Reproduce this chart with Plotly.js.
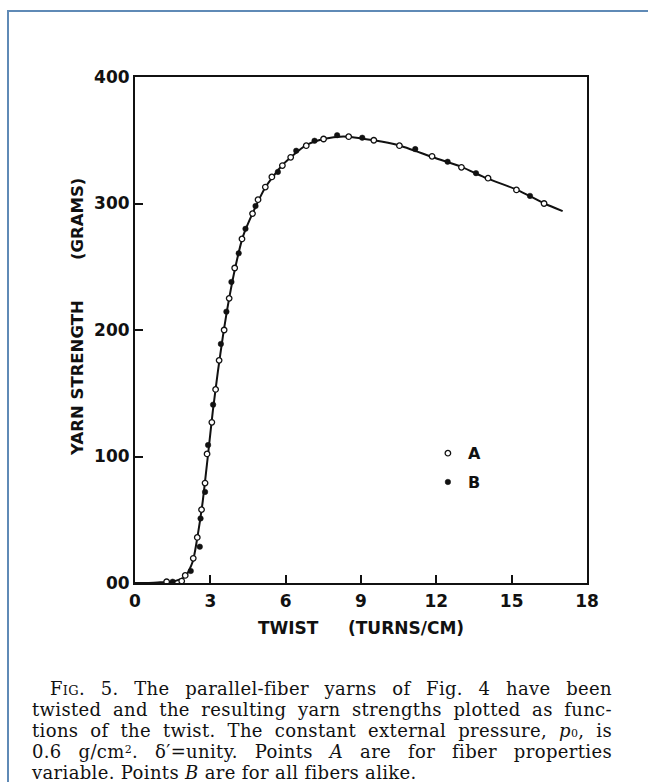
<!DOCTYPE html>
<html>
<head>
<meta charset="utf-8">
<script src="https://cdn.plot.ly/plotly-3.0.1.min.js"></script>
<style>
  html, body { margin: 0; padding: 0; background: #ffffff; }
  #wrap { position: relative; width: 648px; height: 782px; overflow: hidden; }
  #chart { position: absolute; left: 0; top: 0; width: 648px; height: 782px; }
  #frame { position: absolute; left: 7px; top: 10px; width: 700px; height: 800px;
           border-left: 2px solid #5f8ab6; border-top: 2px solid #5f8ab6; pointer-events: none; }
  #caption { position: absolute; left: 32px; top: 678px; width: 580px;
             font-family: "DejaVu Serif", "Liberation Serif", serif; font-size: 18px;
             line-height: 21px; color: #111; letter-spacing: 0.35px; }
  #caption .ln { text-align: justify; text-align-last: justify; white-space: nowrap; height: 21px; }
  #caption .ln.last { text-align-last: left; }
  #caption .ln.first { padding-left: 18px; }
  #caption .sb { font-size: 11px; line-height: 0; }
  #caption .sp { font-size: 11px; position: relative; top: -5px; line-height: 0; }
  #caption .sc { font-variant: small-caps; }
</style>
</head>
<body>
<div id="wrap">
  <div id="chart"></div>
  <div id="frame"></div>
  <div id="caption"></div>
</div>
<script>
// Smooth theoretical curve
const curveTwist    = [0, 0.5, 1.0, 1.5, 2.0, 2.3, 2.5, 2.7, 2.9, 3.1, 3.3, 3.5, 3.75, 4.0, 4.3, 4.7, 5.2, 5.9, 6.8, 7.5, 8.3, 9.5, 10.5, 11.8, 13.0, 14.0, 15.2, 16.3, 17.03];
const curveStrength = [0, 0, 0.5, 1, 5, 17, 38, 65, 100, 136, 167, 195, 225, 250, 274, 293, 313, 331, 346, 351, 353, 350, 346, 337, 329, 320, 311, 300, 294];

// Points A (open circles): fiber properties variable
const twistA    = [1.26, 1.86, 2.0, 2.32, 2.48, 2.65, 2.79, 2.87, 3.06, 3.21, 3.35, 3.55, 3.75, 3.97, 4.26, 4.68, 4.90, 5.19, 5.45, 5.87, 6.20, 6.82, 7.51, 8.51, 9.51, 10.53, 11.83, 13.0, 14.06, 15.19, 16.29];
const strengthA = [1, 1.5, 6, 19.5, 36, 58, 79, 102, 127, 153, 176, 200, 225, 249, 272, 292, 303, 313, 321, 330, 336.5, 345.7, 351, 352.8, 350, 345.7, 337.3, 328.6, 320, 310.7, 300];

// Points B (filled dots): all fibers alike
const twistB    = [1.5, 2.22, 2.58, 2.61, 2.79, 2.91, 3.11, 3.42, 3.64, 3.84, 4.13, 4.40, 4.80, 5.69, 6.42, 7.15, 8.05, 9.05, 11.16, 12.45, 13.58, 15.73];
const strengthB = [1, 9.5, 28.7, 51, 72, 109, 141, 189, 214.5, 238, 260.6, 280, 298, 325, 341.7, 349.6, 354, 352, 343, 333, 324, 306];

const xTickVals = [0, 3, 6, 9, 12, 15, 18];
const xTickText = ['0', '3', '6', '9', '12', '15', '18'];
const yTickVals = [0, 100, 200, 300, 400];
const yTickText = ['00', '100', '200', '300', '400'];

const xTitle = 'TWIST&nbsp;&nbsp;&nbsp;&nbsp;&nbsp;(TURNS/CM)';
const yTitle = 'YARN STRENGTH&nbsp;&nbsp;&nbsp;&nbsp;&nbsp;&nbsp;&nbsp;(GRAMS)';

const captionLines = [
  '<span class="sc">Fig</span>. 5. The parallel-fiber yarns of Fig. 4 have been',
  'twisted and the resulting yarn strengths plotted as func-',
  'tions of the twist. The constant external pressure, <i>p</i><span class="sb">0</span>, is',
  '0.6 g/cm<span class="sp">2</span>. δ′=unity. Points <i>A</i> are for fiber properties',
  'variable. Points <i>B</i> are for all fibers alike.'
];

const boldSans = 'DejaVu Sans, Liberation Sans, sans-serif';
const labelFont = { family: boldSans, size: 17, color: '#111', weight: 'bold' };

const traces = [
  { x: curveTwist, y: curveStrength, mode: 'lines', type: 'scatter',
    line: { color: '#111', width: 2, shape: 'spline', smoothing: 0.6 },
    showlegend: false, hoverinfo: 'skip' },
  { x: twistA, y: strengthA, mode: 'markers', type: 'scatter', name: 'A', legendgroup: 'A',
    marker: { symbol: 'circle', size: 5.5, color: '#ffffff', line: { color: '#111', width: 1.3 } } },
  { x: twistB, y: strengthB, mode: 'markers', type: 'scatter', name: 'B', legendgroup: 'B',
    marker: { symbol: 'circle', size: 5.5, color: '#111', line: { color: '#111', width: 0.5 } } }
];

const layout = {
  width: 648, height: 782,
  margin: { l: 135, r: 61, t: 77, b: 199 },
  paper_bgcolor: '#ffffff', plot_bgcolor: '#ffffff',
  xaxis: {
    range: [0, 18], tickvals: xTickVals, ticktext: xTickText,
    ticks: 'inside', ticklen: 8, tickwidth: 2, tickcolor: '#111',
    showline: true, linecolor: '#111', linewidth: 2, mirror: true,
    showgrid: false, zeroline: false, tickfont: labelFont, ticklabelstandoff: 2,
    title: { text: xTitle, font: { family: boldSans, size: 17, color: '#111', weight: 'bold' }, standoff: 12 }
  },
  yaxis: {
    range: [0, 400], tickvals: yTickVals, ticktext: yTickText,
    ticks: 'inside', ticklen: 8, tickwidth: 2, tickcolor: '#111',
    showline: true, linecolor: '#111', linewidth: 2, mirror: true,
    showgrid: false, zeroline: false, tickfont: labelFont
  },
  showlegend: true,
  legend: {
    x: 0.648, y: 0.29, xanchor: 'left', yanchor: 'top',
    bgcolor: 'rgba(0,0,0,0)', borderwidth: 0,
    font: { family: boldSans, size: 16, color: '#111', weight: 'bold' },
    tracegroupgap: 5, itemwidth: 30
  },
  annotations: [{
    xref: 'paper', yref: 'paper', x: -0.126, y: 0.526,
    xanchor: 'center', yanchor: 'middle', textangle: -90, showarrow: false,
    text: yTitle, font: { family: boldSans, size: 16.5, color: '#111', weight: 'bold' }
  }]
};

Plotly.newPlot('chart', traces, layout, { displayModeBar: false, staticPlot: true });

const cap = document.getElementById('caption');
captionLines.forEach((t, i) => {
  const d = document.createElement('div');
  d.className = 'ln' + (i === 0 ? ' first' : '') + (i === captionLines.length - 1 ? ' last' : '');
  d.innerHTML = t;
  cap.appendChild(d);
});
</script>
</body>
</html>
